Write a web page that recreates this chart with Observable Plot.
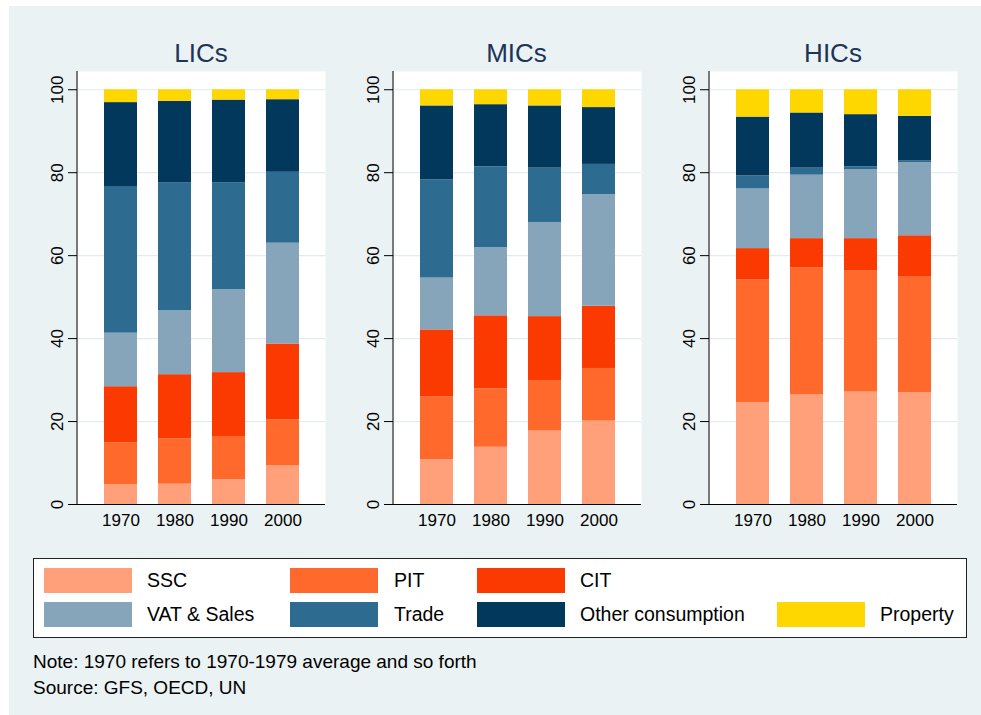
<!DOCTYPE html>
<html>
<head>
<meta charset="utf-8">
<script src="https://cdn.jsdelivr.net/npm/d3@7"></script>
<script src="https://cdn.jsdelivr.net/npm/@observablehq/plot@0.6"></script>
<style>
  html, body { margin: 0; padding: 0; background: #ffffff; }
  #page { position: relative; width: 981px; height: 715px; background: #ffffff; overflow: hidden;
          font-family: "Liberation Sans", Arial, Helvetica, sans-serif; }
  #bg { position: absolute; left: 9px; top: 6px; width: 972px; height: 709px; background: #EAF2F3; }
  .panel { position: absolute; }
  .title { position: absolute; width: 248px; text-align: center; font-size: 26px; color: #1c3458; line-height: 1; }
  #legend { position: absolute; left: 33px; top: 558px; width: 932px; height: 78px; background: #fff; border: 1px solid #222; }
  .sw { position: absolute; width: 88px; height: 25px; }
  .lab { position: absolute; font-size: 19.5px; line-height: 25px; color: #000; white-space: nowrap; }
  .note { position: absolute; left: 33px; font-size: 19px; color: #000; white-space: nowrap; line-height: 1; }
</style>
</head>
<body>
<div id="page">
  <div id="bg"></div>
</div>
<script>
// ---- data ----
const decades = ["1970", "1980", "1990", "2000"];
const groups = ["LICs", "MICs", "HICs"];
const seriesNames = ["SSC", "PIT", "CIT", "VAT & Sales", "Trade", "Other consumption", "Property"];
const seriesColors = ["#FFA07A", "#FF692B", "#FA3A00", "#86A5BA", "#2E6B91", "#02385C", "#FFD700"];
const yTicks = [0, 20, 40, 60, 80, 100];

// shares (%) by series (rows, in seriesNames order) and decade (columns)
const lics = [
  [4.8, 4.9, 6.0, 9.3],
  [10.1, 10.9, 10.4, 11.1],
  [13.5, 15.5, 15.4, 18.3],
  [12.9, 15.4, 20.0, 24.3],
  [35.2, 30.8, 25.8, 17.1],
  [20.4, 19.7, 19.9, 17.5],
  [3.1, 2.8, 2.5, 2.4]
];
const mics = [
  [10.8, 13.8, 17.7, 20.1],
  [15.1, 14.1, 12.2, 12.7],
  [16.2, 17.6, 15.4, 15.0],
  [12.5, 16.4, 22.7, 26.9],
  [23.7, 19.5, 13.1, 7.3],
  [17.8, 15.0, 15.0, 13.7],
  [3.9, 3.6, 3.9, 4.3]
];
const hics = [
  [24.6, 26.4, 27.1, 26.9],
  [29.6, 30.7, 29.3, 27.9],
  [7.5, 7.0, 7.7, 10.0],
  [14.4, 15.3, 16.6, 17.6],
  [3.1, 1.7, 0.7, 0.4],
  [14.2, 13.3, 12.6, 10.8],
  [6.6, 5.6, 6.0, 6.4]
];
const groupData = [lics, mics, hics];
const legendRows = [
  ["SSC", "PIT", "CIT"],
  ["VAT & Sales", "Trade", "Other consumption", "Property"]
];
const noteLines = ["Note: 1970 refers to 1970-1979 average and so forth", "Source: GFS, OECD, UN"];

// ---- layout ----
const page = document.getElementById("page");
const plotLefts = [77, 392.5, 709];
const plotW = 248, mLeft = 57, mTop = 5, mBottom = 40, svgTop = 66, plotBottom = 504;
const FONT = '"Liberation Sans", Arial, Helvetica, sans-serif';

function axisLine(...args) {
  const dims = args.length >= 4 ? args[3] : args[1];
  const {marginLeft, marginTop, height, marginBottom} = dims;
  const g = document.createElementNS("http://www.w3.org/2000/svg", "line");
  g.setAttribute("x1", marginLeft); g.setAttribute("x2", marginLeft);
  g.setAttribute("y1", marginTop); g.setAttribute("y2", height - marginBottom);
  g.setAttribute("stroke", "#000"); g.setAttribute("stroke-width", "1");
  return g;
}

groups.forEach((grp, gi) => {
  const rows = [];
  seriesNames.forEach((s, si) => {
    decades.forEach((d, di) => rows.push({group: grp, series: s, decade: d, value: groupData[gi][si][di]}));
  });
  const chart = Plot.plot({
    width: mLeft + plotW,
    height: (plotBottom - svgTop) + mBottom,
    marginLeft: mLeft, marginRight: 0, marginTop: mTop, marginBottom: mBottom,
    style: {background: "transparent", fontFamily: FONT, overflow: "visible"},
    x: {domain: decades, paddingInner: 0.39, paddingOuter: 0.45, label: null},
    y: {domain: [0, 104.4], label: null},
    color: {domain: seriesNames, range: seriesColors},
    marks: [
      Plot.frame({fill: "#ffffff", stroke: "none"}),
      Plot.gridY(yTicks.slice(1), {stroke: "#E2EBEE", strokeOpacity: 1, strokeWidth: 1.2}),
      Plot.barY(rows, {x: "decade", y: "value", fill: "series", order: seriesNames}),
      Plot.ruleY([0], {stroke: "#000"}),
      axisLine,
      Plot.axisY(yTicks, {tickSize: 9, tickRotate: -90, tickPadding: 6, fontSize: 17, fill: "#000", stroke: "#000", label: null}),
      Plot.axisX({tickSize: 0, tickPadding: 9, fontSize: 17, fill: "#000", label: null})
    ]
  });
  chart.classList.add("panel");
  chart.style.left = (plotLefts[gi] - mLeft) + "px";
  chart.style.top = svgTop + "px";
  page.appendChild(chart);

  const t = document.createElement("div");
  t.className = "title";
  t.textContent = grp;
  t.style.left = plotLefts[gi] + "px";
  t.style.top = "40px";
  page.appendChild(t);
});

// legend
const legend = document.createElement("div");
legend.id = "legend";
page.appendChild(legend);
const colSw = [10, 256, 443, 743];
const colLab = [113, 360, 546, 846];
const rowTop = [9, 43];
legendRows.forEach((row, ri) => {
  row.forEach((name, ci) => {
    const sw = document.createElement("div");
    sw.className = "sw";
    sw.style.left = colSw[ci] + "px";
    sw.style.top = rowTop[ri] + "px";
    sw.style.background = seriesColors[seriesNames.indexOf(name)];
    legend.appendChild(sw);
    const lb = document.createElement("div");
    lb.className = "lab";
    lb.style.left = colLab[ci] + "px";
    lb.style.top = rowTop[ri] + "px";
    lb.textContent = name;
    legend.appendChild(lb);
  });
});

noteLines.forEach((txt, i) => {
  const n = document.createElement("div");
  n.className = "note";
  n.style.top = (652 + i * 26) + "px";
  n.textContent = txt;
  page.appendChild(n);
});
</script>
</body>
</html>
